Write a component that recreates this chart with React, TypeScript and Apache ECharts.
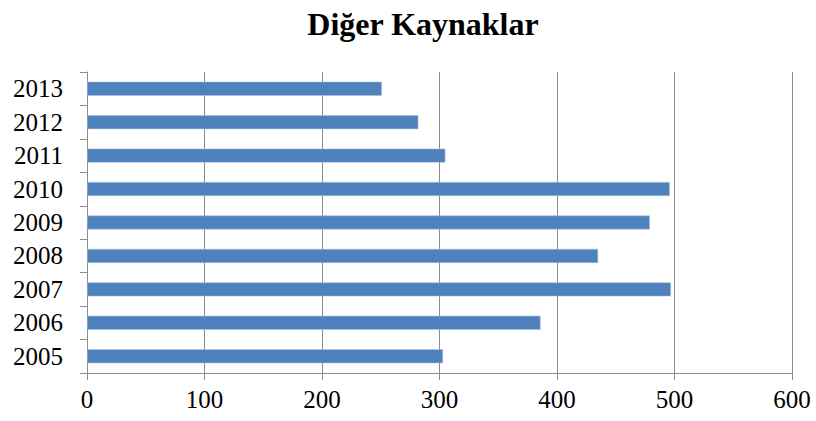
import React, { useEffect, useRef } from "react";
import * as echarts from "echarts";

const title = "Diğer Kaynaklar";
const years = ["2005", "2006", "2007", "2008", "2009", "2010", "2011", "2012", "2013"];
const values = [303, 386, 497, 435, 479, 496, 305, 282, 251];

export default function App() {
  const ref = useRef<HTMLDivElement>(null);
  useEffect(() => {
    const chart = echarts.init(ref.current!, null, { renderer: "svg" });
    const font = "'Liberation Serif', 'Times New Roman', serif";
    chart.setOption({
      animation: false,
      backgroundColor: "#ffffff",
      title: {
        text: title,
        left: 418,
        textAlign: "center",
        top: 3,
        textStyle: { fontFamily: font, fontWeight: "bold", fontSize: 32, color: "#000" },
      },
      grid: { left: 87, right: 24, top: 72, bottom: 48, containLabel: false },
      xAxis: {
        type: "value",
        min: 0,
        max: 600,
        interval: 100,
        axisLine: { show: true, lineStyle: { color: "#8c8c8c", width: 1 } },
        axisTick: { show: true, length: 7, lineStyle: { color: "#8c8c8c" } },
        splitLine: { show: true, lineStyle: { color: "#8c8c8c", width: 1 } },
        axisLabel: { fontFamily: font, fontSize: 25, color: "#000", margin: 14 },
      },
      yAxis: {
        type: "category",
        data: years,
        axisLine: { show: true, lineStyle: { color: "#8c8c8c", width: 1 } },
        axisTick: { show: true, length: 7, alignWithLabel: false, lineStyle: { color: "#8c8c8c" } },
        axisLabel: { fontFamily: font, fontSize: 25, color: "#000", margin: 24 },
      },
      series: [
        {
          type: "bar",
          data: values,
          barWidth: "42%",
          itemStyle: { color: "#4F81BD", borderColor: "#a9c1e0", borderWidth: 0.6 },
        },
      ],
    });
    return () => chart.dispose();
  }, []);
  return (
    <div
      ref={ref}
      style={{ position: "absolute", left: 0, top: 0, width: 816, height: 421 }}
    />
  );
}
